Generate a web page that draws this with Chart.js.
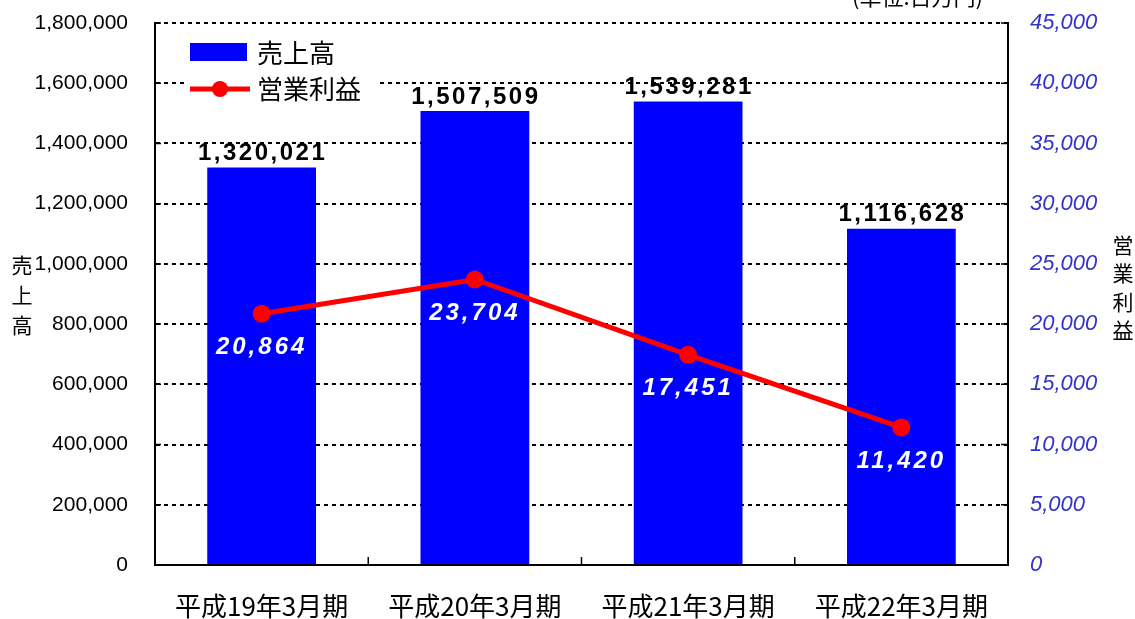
<!DOCTYPE html>
<html>
<head>
<meta charset="utf-8">
<script src="https://cdn.jsdelivr.net/npm/chart.js@4/dist/chart.umd.min.js"></script>
<style>
    html, body { margin: 0; padding: 0; background: #fff; }
    canvas { display: block; }
</style>
</head>
<body>
<canvas id="sales-chart" width="1135" height="619"></canvas>
<script>
(function () {
    "use strict";

    // data
    const periods = ["平成19年3月期", "平成20年3月期", "平成21年3月期", "平成22年3月期"];
    const sales = [1320021, 1507509, 1539281, 1116628];
    const profit = [20864, 23704, 17451, 11420];
    const salesTicks = [0, 200000, 400000, 600000, 800000, 1000000, 1200000, 1400000, 1600000, 1800000];
    const profitTicks = [0, 5000, 10000, 15000, 20000, 25000, 30000, 35000, 40000, 45000];
    const unitLabel = "(単位:百万円)";

    const fmt = (v) => Number(v).toLocaleString("en-US");
    const CJK = "'Noto Sans CJK JP', 'Noto Sans', sans-serif";
    const SANS = "'Liberation Sans', Arial, sans-serif";

    const noPad = (s) => {
        s.paddingTop = 0;
        s.paddingBottom = 0;
        s.paddingLeft = 0;
        s.paddingRight = 0;
    };

    const extras = {
        id: "extras",
        afterDatasetsDraw(chart) {
            const ctx = chart.ctx;
            const area = chart.chartArea;
            const x = chart.scales.x;
            const yl = chart.scales.y;
            const yr = chart.scales.y1;
            ctx.save();

            // small inner tick marks
            ctx.strokeStyle = "#000";
            ctx.lineWidth = 1.5;
            ctx.beginPath();
            for (let i = 1; i < periods.length; i++) {
                const bx = (x.getPixelForValue(i - 1) + x.getPixelForValue(i)) / 2;
                ctx.moveTo(bx, area.bottom);
                ctx.lineTo(bx, area.bottom - 8);
            }
            profitTicks.forEach((t) => {
                const py = yr.getPixelForValue(t);
                ctx.moveTo(area.right, py);
                ctx.lineTo(area.right - 7, py);
            });
            salesTicks.forEach((t) => {
                const py = yl.getPixelForValue(t);
                ctx.moveTo(area.left, py);
                ctx.lineTo(area.left + 6, py);
            });
            ctx.stroke();

            // bar value labels
            const barMeta = chart.getDatasetMeta(1);
            ctx.fillStyle = "#000";
            ctx.font = "bold 24px " + SANS;
            ctx.letterSpacing = "2.5px";
            ctx.textAlign = "center";
            ctx.textBaseline = "middle";
            barMeta.data.forEach((bar, i) => {
                ctx.fillText(fmt(sales[i]), bar.x + 1, bar.y - 14);
            });

            // line value labels
            const lineMeta = chart.getDatasetMeta(0);
            ctx.fillStyle = "#fff";
            ctx.font = "italic bold 24px " + SANS;
            ctx.letterSpacing = "3px";
            lineMeta.data.forEach((pt, i) => {
                ctx.fillText(fmt(profit[i]), pt.x, pt.y + 34);
            });
            ctx.letterSpacing = "0px";

            // legend
            ctx.fillStyle = "#fff";
            ctx.fillRect(184, 34, 196, 70);
            ctx.fillStyle = "#0000ff";
            ctx.fillRect(190, 43, 57, 18);
            ctx.strokeStyle = "#ff0000";
            ctx.lineWidth = 5;
            ctx.beginPath();
            ctx.moveTo(190, 89);
            ctx.lineTo(250, 89);
            ctx.stroke();
            ctx.fillStyle = "#ff0000";
            ctx.beginPath();
            ctx.arc(220, 89, 8, 0, Math.PI * 2);
            ctx.fill();
            ctx.fillStyle = "#000";
            ctx.font = "26px " + CJK;
            ctx.textAlign = "left";
            ctx.fillText("売上高", 257, 53);
            ctx.fillText("営業利益", 257, 89);

            // axis titles, one character per line
            ctx.font = "21px " + CJK;
            ctx.textAlign = "center";
            ["売", "上", "高"].forEach((c, i) => ctx.fillText(c, 22, 265 + i * 30));
            ["営", "業", "利", "益"].forEach((c, i) => ctx.fillText(c, 1123, 245 + i * 28.5));

            // unit note, cut at the top edge
            ctx.font = "22px " + CJK;
            ctx.textAlign = "left";
            ctx.textBaseline = "alphabetic";
            ctx.fillText(unitLabel, 852, 5);

            ctx.restore();
        },
    };

    new Chart(document.getElementById("sales-chart"), {
        data: {
            labels: periods,
            datasets: [
                {
                    type: "line",
                    label: "営業利益",
                    data: profit,
                    yAxisID: "y1",
                    order: 0,
                    borderColor: "#ff0000",
                    borderWidth: 5,
                    pointRadius: 9,
                    pointBackgroundColor: "#ff0000",
                    pointBorderWidth: 0,
                    tension: 0,
                },
                {
                    type: "bar",
                    label: "売上高",
                    data: sales,
                    yAxisID: "y",
                    order: 1,
                    backgroundColor: "#0000ff",
                    categoryPercentage: 1,
                    barPercentage: 0.51,
                },
            ],
        },
        options: {
            responsive: false,
            animation: false,
            devicePixelRatio: 1,
            layout: { padding: { top: 23, left: 0, right: 0, bottom: 0 } },
            plugins: {
                legend: { display: false },
                tooltip: { enabled: false },
            },
            scales: {
                x: {
                    offset: true,
                    grid: { display: false },
                    border: { display: true, color: "#000", width: 2 },
                    ticks: {
                        color: "#000",
                        padding: 18,
                        font: { family: CJK, size: 26 },
                        maxRotation: 0,
                    },
                    afterFit: (s) => { s.height = 54; noPad(s); },
                },
                y: {
                    position: "left",
                    min: 0,
                    max: 1800000,
                    afterBuildTicks: (s) => { s.ticks = salesTicks.map((v) => ({ value: v })); },
                    grid: { color: "#000", lineWidth: 2, drawTicks: false },
                    border: { display: true, color: "#000", width: 2, dash: [4, 4] },
                    ticks: {
                        color: "#000",
                        padding: 27,
                        font: { family: SANS, size: 21 },
                        callback: (v) => fmt(v),
                    },
                    afterFit: (s) => { s.width = 155; noPad(s); },
                },
                y1: {
                    position: "right",
                    min: 0,
                    max: 45000,
                    afterBuildTicks: (s) => { s.ticks = profitTicks.map((v) => ({ value: v })); },
                    grid: { drawOnChartArea: false, drawTicks: false },
                    border: { display: true, color: "#000", width: 2 },
                    ticks: {
                        color: "#3333cc",
                        padding: 22,
                        font: { family: SANS, size: 22, style: "italic" },
                        callback: (v) => fmt(v),
                    },
                    afterFit: (s) => { s.width = 127; noPad(s); },
                },
            },
        },
        plugins: [extras],
    });
})();
</script>
</body>
</html>
